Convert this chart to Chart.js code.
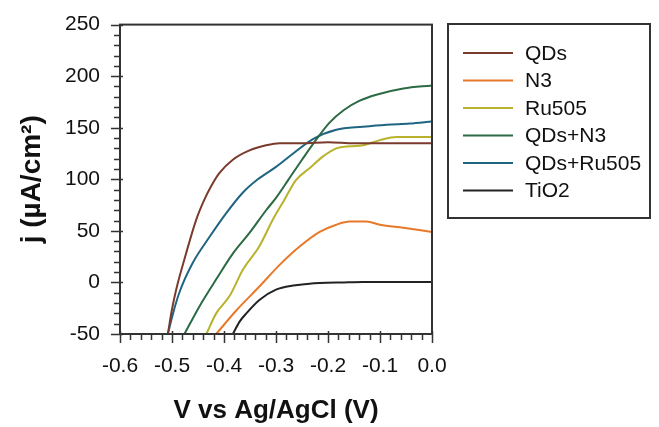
<!DOCTYPE html>
<html>
<head>
<meta charset="utf-8">
<script src="https://cdn.jsdelivr.net/npm/chart.js@4.4.1/dist/chart.umd.min.js"></script>
<style>
  html, body { margin: 0; padding: 0; background: #fff; }
  #wrap { width: 659px; height: 427px; }
</style>
</head>
<body>
<div id="wrap"><canvas id="chart"></canvas></div>
<script>
// ---- DATA (V vs Ag/AgCl, j in µA/cm²) ----
const labels = ['QDs', 'N3', 'Ru505', 'QDs+N3', 'QDs+Ru505', 'TiO2'];
const colors = ['#7a3a2c', '#e8792a', '#b8b22c', '#2c6a44', '#1f6582', '#222222'];

const vQDs = [-0.508, -0.500, -0.492, -0.473, -0.454, -0.438, -0.424, -0.409, -0.383, -0.351, -0.319, -0.293, -0.250, -0.200, -0.150, -0.100, -0.050, 0.0];
const jQDs = [-50, -26, -7, 28, 60, 80, 94, 106, 119, 128, 133, 135, 135, 136, 135, 135, 135, 135];

const vN3 = [-0.415, -0.376, -0.332, -0.293, -0.254, -0.216, -0.184, -0.158, -0.126, -0.100, -0.055, 0.0];
const jN3 = [-50, -27, -4, 17, 35, 49, 56, 59, 59, 56, 53, 49];

const vRu505 = [-0.434, -0.415, -0.389, -0.364, -0.332, -0.306, -0.284, -0.262, -0.235, -0.210, -0.184, -0.158, -0.133, -0.100, -0.068, 0.0];
const jRu505 = [-50, -30, -13, 12, 35, 61, 80, 99, 111, 122, 130, 132, 133, 138, 141, 141];

const vQDsN3 = [-0.476, -0.447, -0.415, -0.383, -0.351, -0.319, -0.300, -0.277, -0.250, -0.222, -0.197, -0.170, -0.140, -0.107, -0.055, 0.0];
const jQDsN3 = [-50, -23, 3, 28, 48, 70, 82, 99, 119, 139, 155, 167, 176, 182, 188, 191];

const vQDsRu = [-0.508, -0.498, -0.486, -0.460, -0.428, -0.396, -0.364, -0.335, -0.300, -0.267, -0.229, -0.184, -0.133, -0.087, -0.043, 0.0];
const jQDsRu = [-50, -30, -10, 19, 44, 67, 87, 100, 112, 125, 139, 148, 151, 153, 154, 156];

const vTiO2 = [-0.383, -0.370, -0.357, -0.332, -0.300, -0.267, -0.240, -0.216, -0.170, -0.133, -0.050, 0.0];
const jTiO2 = [-50, -38, -30, -17, -7, -3, -1.5, -0.6, 0, 0.4, 0.5, 0.5];

const series = [[vQDs, jQDs], [vN3, jN3], [vRu505, jRu505], [vQDsN3, jQDsN3], [vQDsRu, jQDsRu], [vTiO2, jTiO2]];

const FONT = '"Liberation Sans", Arial, sans-serif';
const AXIS = '#333333';

// frame, major/minor tick marks and the boxed legend
const decorations = {
  id: 'decorations',
  afterDraw(chart) {
    const { ctx, chartArea: a, scales: { x, y } } = chart;
    ctx.save();
    ctx.strokeStyle = AXIS;
    ctx.lineWidth = 2;
    ctx.strokeRect(a.left, a.top, a.right - a.left, a.bottom - a.top);

    ctx.lineWidth = 1.5;
    ctx.beginPath();
    for (let v = -50; v <= 250; v += 10) {
      const py = Math.round(y.getPixelForValue(v)) + 0.5;
      const major = v % 50 === 0;
      ctx.moveTo(a.left - (major ? 9 : 6), py);
      ctx.lineTo(a.left + (major ? 3 : 0), py);
    }
    for (let i = 0; i <= 30; i++) {
      const v = -0.6 + i * 0.02;
      const px = Math.round(x.getPixelForValue(v)) + 0.5;
      const major = i % 5 === 0;
      ctx.moveTo(px, a.bottom + (major ? 9 : 6));
      ctx.lineTo(px, a.bottom - (major ? 3 : 0));
    }
    ctx.stroke();

    // legend box
    const bx = 448, by = 24, bw = 202, bh = 194;
    ctx.lineWidth = 2;
    ctx.strokeRect(bx, by, bw, bh);
    ctx.font = '21px ' + FONT;
    ctx.textBaseline = 'middle';
    ctx.fillStyle = '#111';
    chart.data.datasets.forEach((ds, i) => {
      const ly = 53 + i * 27.5;
      ctx.strokeStyle = ds.borderColor;
      ctx.lineWidth = 2;
      ctx.beginPath();
      ctx.moveTo(463, ly);
      ctx.lineTo(513, ly);
      ctx.stroke();
      ctx.fillText(ds.label, 525, ly + 1);
    });
    ctx.restore();
  }
};

const ctx = document.getElementById('chart').getContext('2d');
const chart = new Chart(ctx, {
  type: 'scatter',
  data: {
    datasets: series.map(([vs, js], i) => ({
      label: labels[i],
      data: vs.map((v, k) => ({ x: v, y: js[k] })),
      showLine: true,
      borderColor: colors[i],
      borderWidth: 2,
      pointRadius: 0,
      cubicInterpolationMode: 'monotone'
    }))
  },
  options: {
    animation: false,
    responsive: true,
    maintainAspectRatio: false,
    layout: { padding: { left: 0, right: 227, top: 15, bottom: 0 } },
    plugins: { legend: { display: false }, tooltip: { enabled: false } },
    scales: {
      x: {
        type: 'linear', min: -0.6, max: 0,
        grid: { display: false },
        border: { display: false },
        ticks: { stepSize: 0.1, padding: 12, color: '#111', font: { family: FONT, size: 21 },
                 callback: v => Number(v).toFixed(1) },
        title: { display: true, text: 'V vs Ag/AgCl (V)', color: '#111',
                 font: { family: FONT, size: 26, weight: 'bold' }, padding: { top: 0, bottom: 1 } },
        afterFit: s => { s.height = 93; }
      },
      y: {
        type: 'linear', min: -50, max: 250,
        grid: { display: false },
        border: { display: false },
        ticks: { stepSize: 50, padding: 12, color: '#111', font: { family: FONT, size: 21 } },
        title: { display: true, text: 'j (µA/cm²)', color: '#111',
                 font: { family: FONT, size: 28, weight: 'bold' }, padding: { top: 15, bottom: 0 } },
        afterFit: s => { s.width = 120; }
      }
    }
  },
  plugins: [decorations]
});
</script>
</body>
</html>
